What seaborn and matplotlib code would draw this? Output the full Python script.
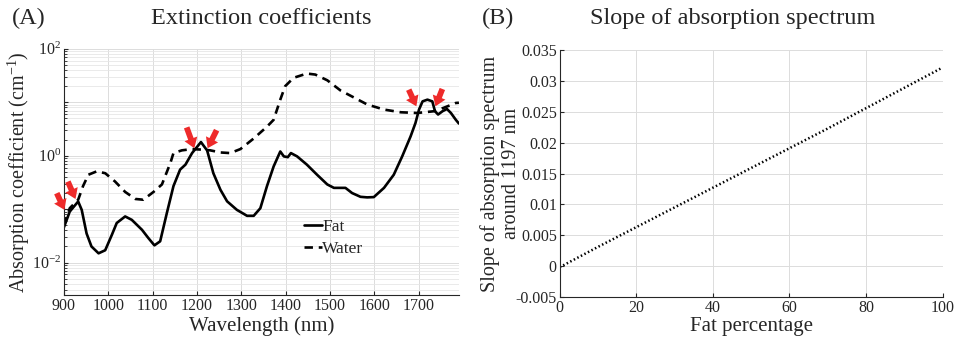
import matplotlib
matplotlib.use('Agg')
import math
import matplotlib.pyplot as plt
import matplotlib.ticker as mticker
import seaborn as sns
import pandas as pd

# (A) extinction coefficients (cm^-1)
fat_wl = [900, 913, 932, 940, 951, 962, 978, 993, 1008, 1019, 1038, 1053, 1076, 1090,
          1104, 1117, 1132, 1147, 1162, 1174, 1189, 1209, 1223, 1237, 1253, 1268, 1290,
          1313, 1328, 1343, 1358, 1373, 1388, 1396, 1405, 1412, 1426, 1448, 1471, 1494,
          1509, 1535, 1550, 1569, 1584, 1599, 1622, 1644, 1663, 1682, 1693, 1701, 1709,
          1720, 1731, 1737, 1744, 1754, 1764, 1773, 1784, 1791]
fat_coef = [0.046, 0.09, 0.139, 0.097, 0.035, 0.02, 0.0149, 0.017, 0.033, 0.055, 0.073,
            0.063, 0.041, 0.029, 0.021, 0.025, 0.084, 0.27, 0.55, 0.68, 1.12, 1.8, 1.25,
            0.47, 0.23, 0.14, 0.097, 0.075, 0.075, 0.104, 0.27, 0.63, 1.2, 0.97, 0.94,
            1.12, 0.97, 0.68, 0.44, 0.29, 0.25, 0.25, 0.2, 0.17, 0.166, 0.168, 0.25, 0.44,
            0.97, 2.3, 4.1, 7.3, 10.4, 11.2, 10.4, 6.8, 5.9, 6.8, 7.5, 6.3, 4.7, 4.0]
water_wl = [900, 913, 932, 943, 955, 974, 993, 1015, 1038, 1061, 1079, 1102, 1121, 1140,
            1147, 1166, 1189, 1211, 1230, 1253, 1275, 1298, 1328, 1358, 1373, 1388, 1399,
            1418, 1448, 1467, 1494, 1524, 1554, 1584, 1622, 1660, 1697, 1735, 1757, 1784,
            1791]
water_coef = [0.05, 0.104, 0.15, 0.27, 0.44, 0.51, 0.47, 0.33, 0.21, 0.155, 0.15, 0.21,
              0.29, 0.73, 1.12, 1.26, 1.33, 1.3, 1.26, 1.15, 1.12, 1.33, 2.1, 3.5, 4.7,
              11.2, 20, 28.7, 34.5, 33, 25.8, 16.6, 12.3, 9.1, 7.3, 6.5, 6.3, 6.8, 7.9,
              9.7, 9.8]

# red arrow markers: tip position and tail offset (points)
arrow_wl = [901, 926, 1194, 1224, 1695, 1738]
arrow_coef = [0.097, 0.155, 1.38, 1.38, 8.4, 8.4]
arrow_dx = [-5.5, -5.5, -5.5, 6.5, -5.5, 5.0]
arrow_dy = [12.0, 12.5, 15.0, 13.0, 12.0, 12.5]

# (B) slope around 1197 nm vs fat percentage
fat_pct = [0, 10, 20, 30, 40, 50, 60, 70, 80, 90, 100]
slope = [-0.0002, 0.0031, 0.0063, 0.0095, 0.0127, 0.0159, 0.0191, 0.0223, 0.0256,
         0.0289, 0.0322]

sns.set_style('whitegrid')
plt.rcParams['font.family'] = ['Liberation Serif', 'DejaVu Serif']
plt.rcParams['mathtext.fontset'] = 'custom'
plt.rcParams['mathtext.rm'] = 'Liberation Serif'
plt.rcParams['mathtext.it'] = 'Liberation Serif:italic'

df_a = pd.concat([
    pd.DataFrame({'Wavelength': fat_wl, 'Coef': fat_coef, 'Material': 'Fat'}),
    pd.DataFrame({'Wavelength': water_wl, 'Coef': water_coef, 'Material': 'Water'}),
])
df_b = pd.DataFrame({'Fat percentage': fat_pct, 'Slope': slope})

fig = plt.figure(figsize=(9.55, 3.44), dpi=100)
ax1 = fig.add_axes([0.067, 0.142, 0.414, 0.716])
ax2 = fig.add_axes([0.586, 0.137, 0.401, 0.717])

grid_kw = dict(color='#dcdcdc', linewidth=0.7)


def log_label(v, pos):
    e = round(math.log10(v))
    return r'$\mathregular{10^{%d}}$' % e if e % 2 == 0 else ''


# ---- panel A
sns.lineplot(data=df_a, x='Wavelength', y='Coef', style='Material',
             dashes={'Fat': '', 'Water': (3.2, 2.2)}, color='black', linewidth=1.9,
             estimator=None, sort=False, legend=False, ax=ax1)
ax1.set_yscale('log')
ax1.set_xlim(900, 1792)
ax1.set_ylim(10 ** -2.61, 100)
ax1.set_xticks(range(900, 1800, 100))
ax1.yaxis.set_major_locator(mticker.LogLocator(base=10, numticks=20))
ax1.yaxis.set_major_formatter(mticker.FuncFormatter(log_label))
ax1.yaxis.set_minor_locator(mticker.LogLocator(base=10, subs=range(2, 10), numticks=20))
ax1.yaxis.set_minor_formatter(mticker.NullFormatter())
ax1.grid(True, which='major', **grid_kw)
ax1.grid(True, which='minor', axis='y', color='#e6e6e6', linewidth=0.6)
ax1.set_xlabel('Wavelength (nm)', fontsize=15, labelpad=2)
ax1.set_ylabel(r'Absorption coefficient (cm$^{\mathregular{-1}}$)', fontsize=14.5)
ax1.yaxis.set_label_coords(-0.08, 0.5)

lines = ax1.get_lines()
ax1.legend(lines[:2], ['Fat', 'Water'], frameon=False, fontsize=12.5, handlelength=1.0,
           handletextpad=0.05, labelspacing=0.35, loc='lower left',
           bbox_to_anchor=(0.59, 0.125), borderaxespad=0)

for wl, c, dx, dy in zip(arrow_wl, arrow_coef, arrow_dx, arrow_dy):
    ax1.annotate('', xy=(wl, c), xytext=(dx, dy), textcoords='offset points',
                 annotation_clip=False,
                 arrowprops=dict(arrowstyle='simple,head_length=0.55,head_width=0.75,tail_width=0.32',
                                 mutation_scale=13, fc='#ee2a2a', ec='none',
                                 shrinkA=0, shrinkB=0))

# ---- panel B
sns.lineplot(data=df_b, x='Fat percentage', y='Slope', color='black', linewidth=1.8,
             linestyle=(0, (0.6, 1.0)), ax=ax2)
ax2.set_xlim(0, 100)
ax2.set_ylim(-0.005, 0.035)
ax2.set_xticks(range(0, 101, 20))
ax2.set_yticks([-0.005 + 0.005 * i for i in range(9)])
ax2.yaxis.set_major_formatter(mticker.FuncFormatter(lambda v, p: '%g' % round(v, 4)))
ax2.grid(True, **grid_kw)
ax2.set_xlabel('Fat percentage', fontsize=15, labelpad=1)
ax2.set_ylabel('Slope of absorption spectrum\naround 1197 nm', fontsize=14.5,
               linespacing=1.15)
ax2.yaxis.set_label_coords(-0.1, 0.5)

for ax in (ax1, ax2):
    for side in ('top', 'right'):
        ax.spines[side].set_visible(False)
    for side in ('left', 'bottom'):
        ax.spines[side].set_color('#262626')
        ax.spines[side].set_linewidth(0.8)
    ax.tick_params(axis='both', which='both', direction='in', labelsize=11.5,
                   color='#262626', length=3, pad=2, left=True, bottom=True)
    ax.tick_params(axis='both', which='minor', length=1.8)
    ax.set_axisbelow(True)

fig.text(0.012, 0.945, '(A)', fontsize=17.5, va='center', ha='left')
fig.text(0.274, 0.945, 'Extinction coefficients', fontsize=17.5, va='center', ha='center')
fig.text(0.505, 0.945, '(B)', fontsize=17.5, va='center', ha='left')
fig.text(0.767, 0.945, 'Slope of absorption spectrum', fontsize=17.5, va='center', ha='center')

fig.savefig('out.png', dpi=100)
